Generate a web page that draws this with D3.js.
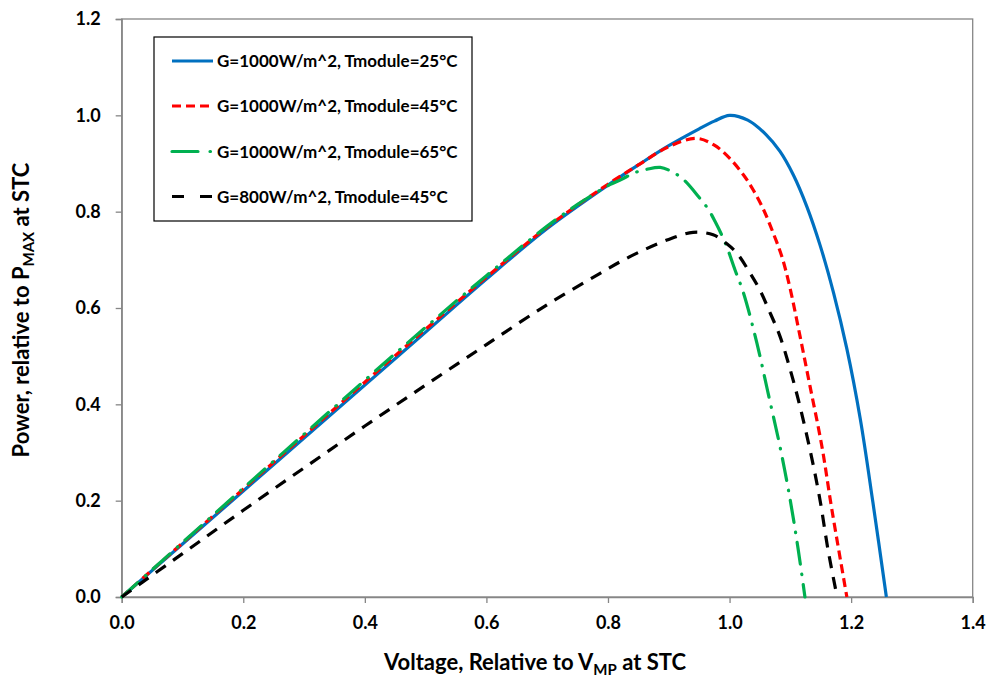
<!DOCTYPE html>
<html>
<head>
<meta charset="utf-8">
<script src="https://cdn.jsdelivr.net/npm/d3@7"></script>
<style>
  body { margin: 0; background: #fff; }
  text { font-family: Lato, "Open Sans", sans-serif; font-weight: bold; fill: #000; }
</style>
</head>
<body>
<svg id="chart" width="1000" height="679"></svg>
<script>
// ---- Data ----
const xTicks = [0.0, 0.2, 0.4, 0.6, 0.8, 1.0, 1.2, 1.4];
const yTicks = [0.0, 0.2, 0.4, 0.6, 0.8, 1.0, 1.2];

const seriesNames = [
  "G=1000W/m^2, Tmodule=25°C",
  "G=1000W/m^2, Tmodule=45°C",
  "G=1000W/m^2, Tmodule=65°C",
  "G=800W/m^2, Tmodule=45°C"
];

const v25 = [0, 0.1, 0.2, 0.3, 0.4, 0.5, 0.6, 0.7, 0.8, 0.85, 0.9, 0.95, 0.975, 1.0, 1.03, 1.06, 1.083, 1.105, 1.127, 1.149, 1.171, 1.193, 1.215, 1.236, 1.258];
const p25 = [0, 0.11, 0.22, 0.33, 0.44, 0.55, 0.66, 0.765, 0.855, 0.897, 0.937, 0.972, 0.988, 1.0, 0.99, 0.96, 0.925, 0.876, 0.811, 0.73, 0.632, 0.515, 0.37, 0.195, 0];

const v45 = [0, 0.1, 0.2, 0.3, 0.4, 0.5, 0.6, 0.7, 0.8, 0.85, 0.9, 0.946, 0.975, 1.0, 1.023, 1.039, 1.056, 1.072, 1.086, 1.099, 1.116, 1.132, 1.152, 1.168, 1.193];
const p45 = [0, 0.112, 0.224, 0.335, 0.446, 0.556, 0.664, 0.768, 0.857, 0.897, 0.935, 0.952, 0.938, 0.911, 0.876, 0.845, 0.804, 0.755, 0.707, 0.644, 0.541, 0.44, 0.312, 0.184, 0];

const v65 = [0, 0.1, 0.2, 0.3, 0.4, 0.5, 0.6, 0.7, 0.75, 0.803, 0.8225, 0.842, 0.864, 0.886, 0.905, 0.924, 0.951, 0.965, 0.976, 0.993, 1.009, 1.023, 1.045, 1.064, 1.083, 1.1, 1.113, 1.124];
const p65 = [0, 0.113, 0.226, 0.338, 0.45, 0.56, 0.667, 0.77, 0.815, 0.856, 0.867, 0.880, 0.888, 0.892, 0.883, 0.867, 0.828, 0.805, 0.780, 0.735, 0.679, 0.631, 0.527, 0.42, 0.312, 0.2, 0.098, 0];

const v800 = [0, 0.1, 0.2, 0.3, 0.4, 0.5, 0.6, 0.7, 0.787, 0.82, 0.858, 0.897, 0.94, 0.973, 0.995, 1.012, 1.034, 1.05, 1.066, 1.083, 1.1, 1.116, 1.135, 1.149, 1.162, 1.177];
const p800 = [0, 0.09, 0.18, 0.268, 0.355, 0.44, 0.524, 0.607, 0.672, 0.696, 0.72, 0.741, 0.757, 0.752, 0.734, 0.714, 0.672, 0.637, 0.592, 0.541, 0.471, 0.395, 0.29, 0.2, 0.098, 0];

// ---- Layout ----
const svg = d3.select("#chart");
const pLeft = 121.7, pRight = 972.7, pTop = 19, pBottom = 597;
const x = d3.scaleLinear().domain([0, 1.4]).range([pLeft, pRight]);
const y = d3.scaleLinear().domain([0, 1.2]).range([pBottom, pTop]);
const axisColor = "#868686";

// plot border
svg.append("rect")
  .attr("x", pLeft).attr("y", pTop)
  .attr("width", pRight - pLeft).attr("height", pBottom - pTop)
  .attr("fill", "none").attr("stroke", axisColor).attr("stroke-width", 1.3);

const xAxis = svg.append("g").attr("transform", `translate(0,${pBottom})`)
  .call(d3.axisBottom(x).tickValues(xTicks).tickFormat(d3.format(".1f")).tickSizeOuter(0).tickSize(6).tickPadding(13));
const yAxis = svg.append("g").attr("transform", `translate(${pLeft},0)`)
  .call(d3.axisLeft(y).tickValues(yTicks).tickFormat(d3.format(".1f")).tickSizeOuter(0).tickSize(6).tickPadding(15));
[xAxis, yAxis].forEach(g => {
  g.selectAll("path.domain").attr("stroke", axisColor).attr("stroke-width", 1.3);
  g.selectAll(".tick line").attr("stroke", axisColor).attr("stroke-width", 1.3);
  g.selectAll(".tick text").style("font-size", "18px").style("font-family", "Lato, sans-serif").style("font-weight", "bold").attr("fill", "#000");
});

// ---- Series ----
const series = [
  { name: seriesNames[0], v: v25, p: p25, color: "#0070C0", dash: null, cap: "butt" },
  { name: seriesNames[1], v: v45, p: p45, color: "#FF0000", dash: "9,5", cap: "butt" },
  { name: seriesNames[2], v: v65, p: p65, color: "#00B050", dash: "22,10,0.5,10", cap: "round" },
  { name: seriesNames[3], v: v800, p: p800, color: "#000000", dash: "12,9", cap: "butt" }
];

const line = d3.line().x(d => x(d[0])).y(d => y(d[1])).curve(d3.curveCatmullRom.alpha(0.5));

series.forEach(s => {
  const pts = s.v.map((vv, i) => [vv, s.p[i]]);
  svg.append("path").datum(pts)
    .attr("d", line)
    .attr("fill", "none")
    .attr("stroke", s.color)
    .attr("stroke-width", 3.2)
    .attr("stroke-linecap", s.cap)
    .attr("stroke-dasharray", s.dash);
});

// ---- Legend ----
const lg = svg.append("g");
lg.append("rect").attr("x", 154).attr("y", 37).attr("width", 318).attr("height", 184)
  .attr("fill", "#fff").attr("stroke", "#000").attr("stroke-width", 1.2);
const legendY = [61, 106, 151.5, 196.5];
series.forEach((s, i) => {
  lg.append("line")
    .attr("x1", 172).attr("x2", 213).attr("y1", legendY[i]).attr("y2", legendY[i])
    .attr("stroke", s.color).attr("stroke-width", 3.2)
    .attr("stroke-linecap", s.cap)
    .attr("stroke-dasharray", s.dash === "12,9" ? "12,16" : (s.cap === "round" ? "26,12,0.5,10" : s.dash));
  lg.append("text").attr("x", 217).attr("y", legendY[i]).attr("dy", "0.36em")
    .style("font-size", "17px").text(s.name);
});

// ---- Axis titles ----
const xt = svg.append("text").attr("x", 535).attr("y", 670).attr("text-anchor", "middle").style("font-size", "22px");
xt.append("tspan").text("Voltage, Relative to V");
xt.append("tspan").attr("dy", 5).style("font-size", "15px").text("MP");
xt.append("tspan").attr("dy", -5).text(" at STC");

const yt = svg.append("text").attr("transform", "translate(29,310) rotate(-90)").attr("text-anchor", "middle").style("font-size", "22px");
yt.append("tspan").text("Power, relative to P");
yt.append("tspan").attr("dy", 5).style("font-size", "15px").text("MAX");
yt.append("tspan").attr("dy", -5).text(" at STC");
</script>
</body>
</html>
